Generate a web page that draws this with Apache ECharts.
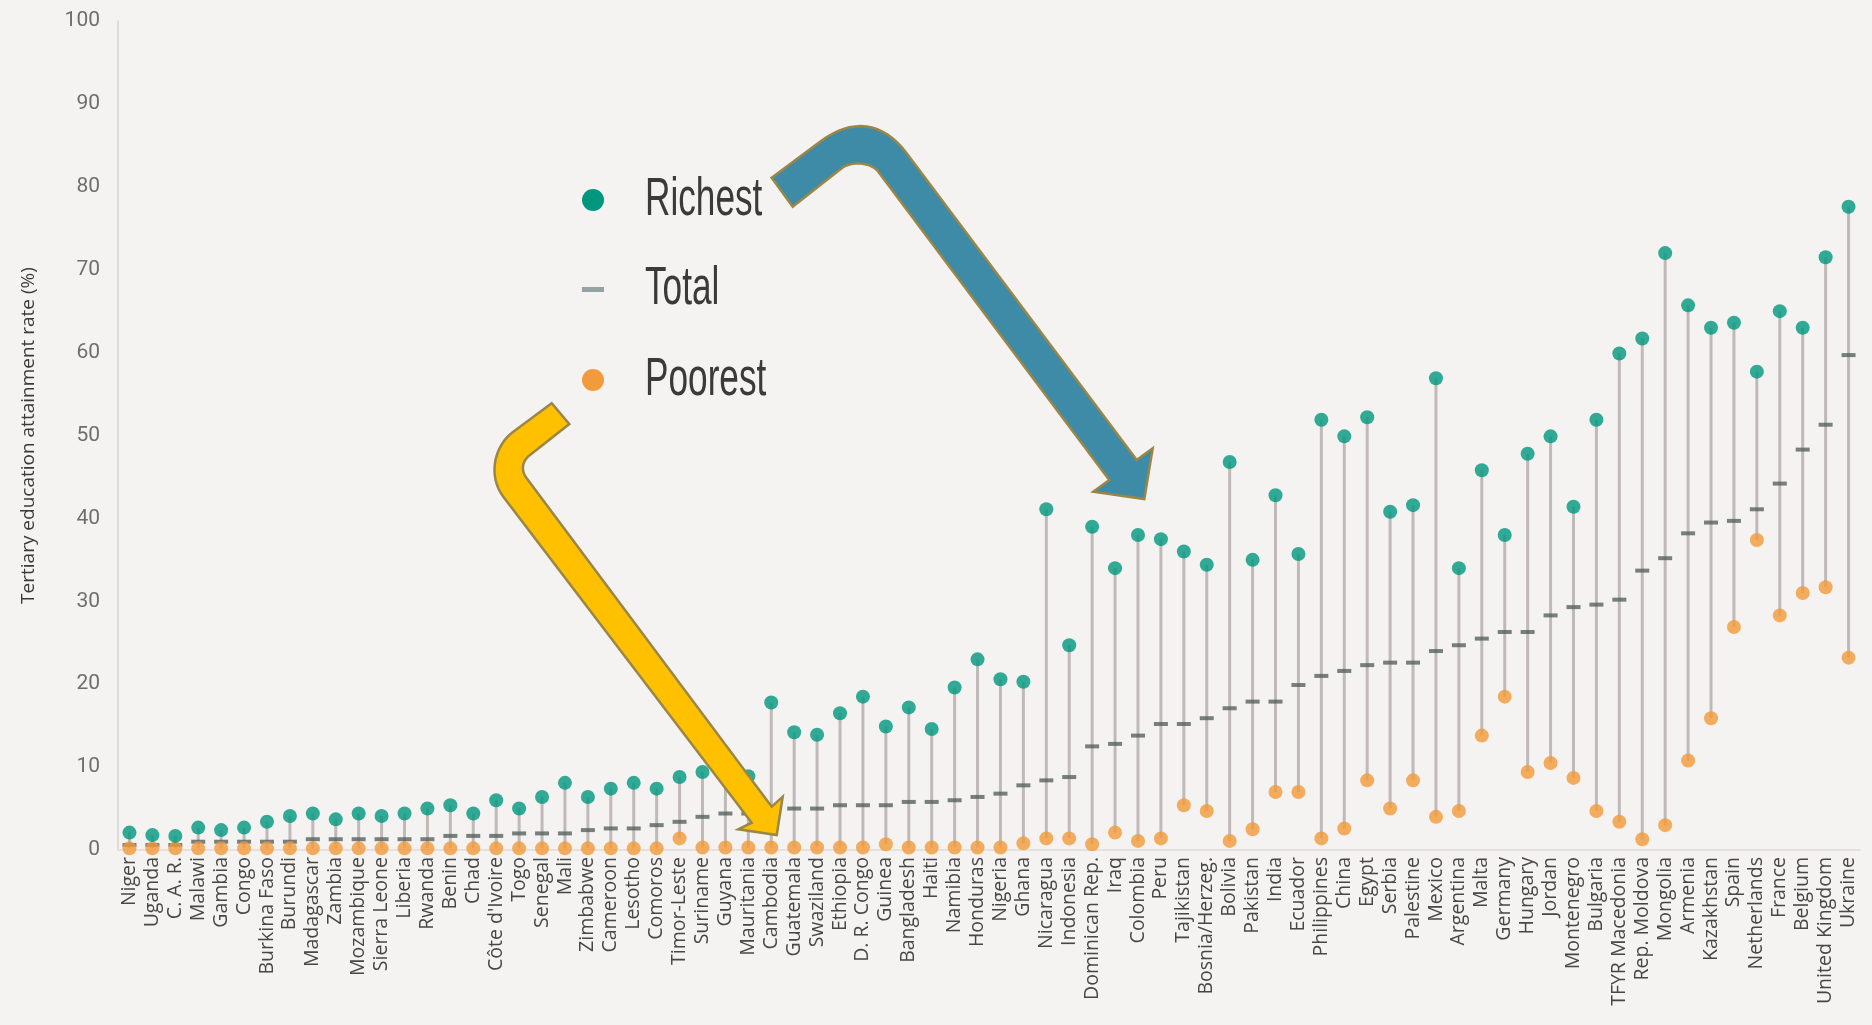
<!DOCTYPE html>
<html>
<head>
<meta charset="utf-8">
<script src="https://cdn.jsdelivr.net/npm/echarts@6/dist/echarts.min.js"></script>
<style>
  html, body { margin: 0; padding: 0; background: #f4f3f1; }
  #chart { width: 1872px; height: 1025px; }
</style>
</head>
<body>
<div id="chart"></div>
<script>
const countries = ["Niger","Uganda","C. A. R.","Malawi","Gambia","Congo","Burkina Faso","Burundi","Madagascar","Zambia","Mozambique","Sierra Leone","Liberia","Rwanda","Benin","Chad","Côte d'Ivoire","Togo","Senegal","Mali","Zimbabwe","Cameroon","Lesotho","Comoros","Timor-Leste","Suriname","Guyana","Mauritania","Cambodia","Guatemala","Swaziland","Ethiopia","D. R. Congo","Guinea","Bangladesh","Haiti","Namibia","Honduras","Nigeria","Ghana","Nicaragua","Indonesia","Dominican Rep.","Iraq","Colombia","Peru","Tajikistan","Bosnia/Herzeg.","Bolivia","Pakistan","India","Ecuador","Philippines","China","Egypt","Serbia","Palestine","Mexico","Argentina","Malta","Germany","Hungary","Jordan","Montenegro","Bulgaria","TFYR Macedonia","Rep. Moldova","Mongolia","Armenia","Kazakhstan","Spain","Netherlands","France","Belgium","United Kingdom","Ukraine"];

const richest = [2.1,1.8,1.7,2.7,2.4,2.7,3.4,4.1,4.4,3.7,4.4,4.1,4.4,5.0,5.4,4.4,6.0,5.0,6.4,8.1,6.4,7.4,8.1,7.4,8.8,9.4,11.5,8.9,17.8,14.2,13.9,16.5,18.5,14.9,17.2,14.6,19.6,23.0,20.6,20.3,41.1,24.7,39.0,34.0,38.0,37.5,36.0,34.4,46.8,35.0,42.8,35.7,51.9,49.9,52.2,40.8,41.6,56.9,34.0,45.8,38.0,47.8,49.9,41.4,51.9,59.9,61.7,72.0,65.7,63.0,63.6,57.7,65.0,63.0,71.5,77.6];

const total = [0.6,0.6,0.6,1.0,1.0,1.0,1.0,1.0,1.3,1.3,1.3,1.3,1.3,1.3,1.7,1.7,1.7,2.0,2.0,2.0,2.4,2.6,2.6,3.0,3.4,4.0,4.4,4.4,4.7,5.0,5.0,5.4,5.4,5.4,5.8,5.8,6.0,6.4,6.8,7.8,8.4,8.8,12.5,12.8,13.8,15.2,15.2,15.9,17.1,17.9,17.9,19.9,21.0,21.6,22.3,22.6,22.6,24.0,24.7,25.5,26.3,26.3,28.3,29.3,29.6,30.2,33.7,35.2,38.2,39.5,39.7,41.1,44.2,48.3,51.3,59.7];

const poorest = [0.2,0.2,0.2,0.2,0.2,0.2,0.2,0.2,0.2,0.2,0.2,0.2,0.2,0.2,0.2,0.2,0.2,0.2,0.2,0.2,0.2,0.2,0.2,0.2,1.4,0.3,0.3,0.3,0.3,0.3,0.3,0.3,0.3,0.7,0.3,0.3,0.3,0.3,0.3,0.8,1.4,1.4,0.7,2.1,1.1,1.4,5.4,4.7,1.1,2.5,7.0,7.0,1.4,2.6,8.4,5.0,8.4,4.0,4.7,13.8,18.5,9.4,10.5,8.7,4.7,3.4,1.3,3.0,10.8,15.9,26.9,37.4,28.3,31.0,31.7,23.2];

const yTicks = [0,10,20,30,40,50,60,70,80,90,100];
const legendLabels = ["Richest","Total","Poorest"];
const yTitle = "Tertiary education attainment rate (%)";

const GREEN = '#00977e', ORANGE = '#f39a3a', DASH = '#56615f', STEM = '#bfb9b7';
const ARROW_STROKE = '#9a8647';

// helper: build polygon outline from segments (2 numbers = point, 6 numbers = cubic bezier)
function outline(segs) {
  const pts = [];
  let cur = null;
  segs.forEach(s => {
    if (s.length === 2) { pts.push(s); cur = s; }
    else {
      const [c1x, c1y, c2x, c2y, ex, ey] = s;
      for (let k = 1; k <= 16; k++) {
        const t = k / 16, u = 1 - t;
        pts.push([
          u*u*u*cur[0] + 3*u*u*t*c1x + 3*u*t*t*c2x + t*t*t*ex,
          u*u*u*cur[1] + 3*u*u*t*c1y + 3*u*t*t*c2y + t*t*t*ey
        ]);
      }
      cur = [ex, ey];
    }
  });
  return pts;
}

const blueArrow = outline([
  [771.7,177.7],[820,141.7],[852,117.7,882.7,121.3,906.7,153.3],
  [1136.7,460],[1152.7,448.3],[1144.3,499],[1093.3,491.7],[1109.3,480],
  [878.3,171.7],[871.1,162.1,851.2,160.9,841.7,168.3],[792.7,206.7]
]);
const yellowArrow = outline([
  [551.7,403.3],[513.3,431.7],[493.3,446.5,488.1,476.8,503.3,496.7],
  [751.7,822.7],[738.3,829.3],[776.7,835],[782.7,796.7],[771.7,806.7],
  [526.7,478.3],[520.6,470.4,522,460.9,530,455],[569.3,424]
]);

const chart = echarts.init(document.getElementById('chart'), null, {renderer: 'canvas'});

const rangeData = countries.map((c, i) => [i, poorest[i], richest[i]]);

const legendText = (txt, y) => ({
  type: 'text', x: 645, y: y, scaleX: 0.8, scaleY: 1.22, z: 50,
  style: { text: txt, fontFamily: 'Liberation Sans', fontSize: 44, fill: '#3a3a3a',
           verticalAlign: 'middle', align: 'left' }
});

const option = {
  backgroundColor: '#f4f3f1',
  animation: false,
  grid: { left: 118, right: 12, top: 21, bottom: 175, containLabel: false },
  xAxis: {
    type: 'category',
    data: countries,
    boundaryGap: true,
    axisLine: { show: true, lineStyle: { color: '#e3e0de', width: 2 } },
    axisTick: { show: false },
    splitLine: { show: false },
    axisLabel: {
      interval: 0, rotate: 90, margin: 7,
      fontFamily: 'Open Sans', fontSize: 19.5, color: '#474747'
    }
  },
  yAxis: {
    type: 'value',
    min: 0, max: 100, interval: 10,
    name: yTitle,
    nameLocation: 'middle',
    nameGap: 80,
    nameRotate: 90,
    nameTextStyle: { fontFamily: 'Open Sans', fontSize: 19, color: '#3a3a3a' },
    axisLine: { show: true, lineStyle: { color: '#d9d6d4', width: 1.5 } },
    axisTick: { show: false },
    splitLine: { show: false },
    axisLabel: {
      margin: 18,
      fontFamily: 'Roboto', fontSize: 21, color: '#6e6e6e',
      formatter: v => (yTicks.indexOf(v) >= 0 ? String(v) : '')
    }
  },
  series: [
    {
      type: 'custom',
      name: 'range',
      data: rangeData,
      encode: { x: 0, y: [1, 2] },
      z: 1,
      renderItem: function (params, api) {
        const i = api.value(0);
        const lo = api.coord([i, api.value(1)]);
        const hi = api.coord([i, api.value(2)]);
        return {
          type: 'line',
          shape: { x1: lo[0], y1: lo[1], x2: hi[0], y2: hi[1] },
          style: { stroke: STEM, lineWidth: 3 }
        };
      }
    },
    {
      type: 'scatter', name: 'Total', data: total, z: 3,
      symbol: 'rect', symbolSize: [14, 4],
      itemStyle: { color: DASH }
    },
    {
      type: 'scatter', name: 'Poorest', data: poorest, z: 4,
      symbol: 'circle', symbolSize: 14,
      itemStyle: { color: ORANGE }
    },
    {
      type: 'scatter', name: 'Richest', data: richest, z: 5,
      symbol: 'circle', symbolSize: 14,
      itemStyle: { color: GREEN }
    }
  ],
  graphic: [
    { type: 'circle', shape: { cx: 593, cy: 200, r: 11 }, style: { fill: GREEN }, z: 50 },
    { type: 'rect', shape: { x: 582, y: 287, width: 22, height: 5 }, style: { fill: '#93a3a2' }, z: 50 },
    { type: 'circle', shape: { cx: 593, cy: 380, r: 11 }, style: { fill: ORANGE }, z: 50 },
    legendText(legendLabels[0], 200),
    legendText(legendLabels[1], 289),
    legendText(legendLabels[2], 380),
    { type: 'polygon', z: 60, shape: { points: blueArrow },
      style: { fill: '#3e8ba8', stroke: ARROW_STROKE, lineWidth: 2.5 } },
    { type: 'polygon', z: 60, shape: { points: yellowArrow },
      style: { fill: '#ffc000', stroke: ARROW_STROKE, lineWidth: 2.5 } }
  ]
};

chart.setOption(option);
</script>
</body>
</html>
